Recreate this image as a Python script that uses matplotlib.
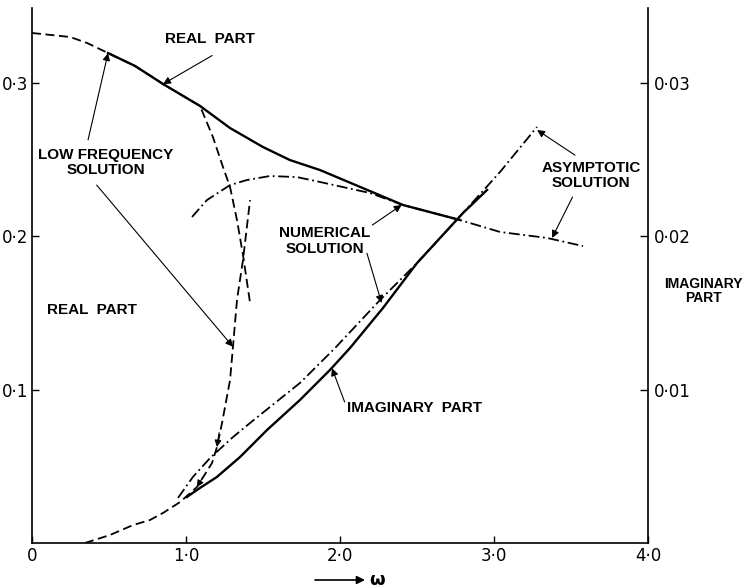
import matplotlib
matplotlib.use("Agg")
import matplotlib.pyplot as plt

# numerical solution, real part (left axis)
num_re_w = [0.494, 0.669, 0.851, 1.091, 1.286, 1.500, 1.675, 1.870, 2.409, 2.779]
num_re = [0.3196, 0.3112, 0.2994, 0.2851, 0.2707, 0.2583, 0.2498, 0.2433, 0.2205, 0.2107]

# numerical solution, imaginary part (right axis)
num_im_w = [1.006, 1.071, 1.201, 1.351, 1.526, 1.740, 1.935, 2.065, 2.279, 2.500,
            2.799, 2.955]
num_im = [0.00300, 0.00346, 0.00431, 0.00561, 0.00737, 0.00933, 0.01129, 0.01272,
          0.01533, 0.01826, 0.02153, 0.02303]

# low frequency solution, real part
low_re_w = [0.0, 0.247, 0.357, 0.494, 0.669, 0.851, 1.091, 1.175, 1.240, 1.286,
            1.331, 1.370, 1.416]
low_re = [0.3327, 0.3301, 0.3262, 0.3196, 0.3112, 0.2994, 0.2851, 0.2648, 0.2453,
          0.2322, 0.2107, 0.1879, 0.1566]

# low frequency solution, imaginary part
low_im_w = [0.344, 0.506, 0.656, 0.766, 0.851, 0.961, 1.071, 1.169, 1.201, 1.234,
            1.286, 1.305, 1.331, 1.370, 1.416]
low_im = [0.0, 0.00052, 0.00117, 0.00150, 0.00196, 0.00267, 0.00365, 0.00522,
          0.00626, 0.00783, 0.01063, 0.01279, 0.01585, 0.01846, 0.02237]

# asymptotic solution, real part
asy_re_w = [1.039, 1.136, 1.286, 1.396, 1.545, 1.721, 1.870, 2.195, 2.409, 2.779,
            3.039, 3.344, 3.578]
asy_re = [0.2127, 0.2237, 0.2335, 0.2368, 0.2394, 0.2387, 0.2355, 0.2283, 0.2205,
          0.2107, 0.2029, 0.1990, 0.1937]

# asymptotic solution, imaginary part
asy_im_w = [0.948, 1.045, 1.156, 1.305, 1.416, 1.545, 1.740, 1.968, 2.260, 2.500,
            2.799, 3.039, 3.279]
asy_im = [0.00294, 0.00431, 0.00554, 0.00691, 0.00783, 0.00887, 0.01044, 0.01272,
          0.01585, 0.01826, 0.02153, 0.02420, 0.02714]

x_ticks = [0, 1, 2, 3, 4]
x_labels = ["0", "1·0", "2·0", "3·0", "4·0"]
re_ticks = [0.1, 0.2, 0.3]
re_labels = ["0·1", "0·2", "0·3"]
im_ticks = [0.01, 0.02, 0.03]
im_labels = ["0·01", "0·02", "0·03"]

lab_font = dict(family=["Liberation Sans", "DejaVu Sans"], weight="bold", fontsize=11)

fig = plt.figure(figsize=(7.47, 5.88), dpi=100)
ax = fig.add_axes([32 / 747, 45 / 588, 616 / 747, 535 / 588])
ax2 = ax.twinx()

ax.set_xlim(0, 4)
ax.set_ylim(0, 0.349)
ax2.set_ylim(0, 0.0349)

dash = dict(color="k", lw=1.3, dashes=(5, 2.5))
dashdot = dict(color="k", lw=1.3, dashes=(6, 2, 1, 2))

ax.plot(low_re_w, low_re, **dash)
ax.plot(asy_re_w, asy_re, **dashdot)
ax.plot(num_re_w, num_re, color="k", lw=1.7)

ax2.plot(low_im_w, low_im, **dash)
ax2.plot(asy_im_w, asy_im, **dashdot)
ax2.plot(num_im_w, num_im, color="k", lw=1.7)

# axes look
ax.spines["top"].set_visible(False)
ax.spines["right"].set_visible(False)
for s in ["top", "left", "bottom"]:
    ax2.spines[s].set_visible(False)
for a in (ax, ax2):
    for s in a.spines.values():
        s.set_linewidth(1.2)

ax.set_xticks(x_ticks)
ax.set_xticklabels(x_labels)
ax.set_yticks(re_ticks)
ax.set_yticklabels(re_labels)
ax2.set_yticks(im_ticks)
ax2.set_yticklabels(im_labels)
ax.tick_params(direction="in", length=5, width=1.0, labelsize=12, pad=3)
ax2.tick_params(direction="in", length=6, width=1.0, labelsize=12, pad=4)

# labels and arrows
arr = dict(arrowstyle="-|>", color="k", lw=0.8, mutation_scale=11,
           shrinkA=0, shrinkB=0)

ax.text(1.156, 0.329, "REAL  PART", ha="center", va="center", **lab_font)
ax.annotate("", xy=(0.851, 0.2994), xytext=(1.17, 0.318), arrowprops=arr)

ax.text(0.48, 0.2485, "LOW FREQUENCY\nSOLUTION", ha="center", va="center",
        ma="center", linespacing=1.1, **lab_font)
ax.annotate("", xy=(0.494, 0.3196), xytext=(0.364, 0.263), arrowprops=arr)
ax.annotate("", xy=(1.305, 0.128), xytext=(0.42, 0.2335), arrowprops=arr)

ax.text(1.90, 0.197, "NUMERICAL\nSOLUTION", ha="center", va="center",
        ma="center", linespacing=1.1, **lab_font)
ax.annotate("", xy=(2.40, 0.2205), xytext=(2.21, 0.2074), arrowprops=arr)
ax.annotate("", xy=(2.27, 0.1566), xytext=(2.175, 0.189), arrowprops=arr)

ax.text(3.63, 0.240, "ASYMPTOTIC\nSOLUTION", ha="center", va="center",
        ma="center", linespacing=1.1, **lab_font)
ax.annotate("", xy=(3.28, 0.2694), xytext=(3.526, 0.253), arrowprops=arr)
ax.annotate("", xy=(3.377, 0.199), xytext=(3.51, 0.2257), arrowprops=arr)

ax.text(0.39, 0.152, "REAL  PART", ha="center", va="center", **lab_font)

ax.text(2.045, 0.088, "IMAGINARY  PART", ha="left", va="center", **lab_font)
ax.annotate("", xy=(1.948, 0.114), xytext=(2.03, 0.092), arrowprops=arr)

# small direction heads on the low frequency curve
head = dict(arrowstyle="-|>", color="k", lw=0.8, mutation_scale=10,
            shrinkA=0, shrinkB=0)
ax2.annotate("", xy=(1.201, 0.00626), xytext=(1.215, 0.0072), arrowprops=head)
ax2.annotate("", xy=(1.071, 0.00365), xytext=(1.11, 0.0043), arrowprops=head)

fig.text(703 / 747, 297 / 588, "IMAGINARY\nPART", ha="center", va="center",
         ma="center", linespacing=1.0,
         family=["Liberation Sans", "DejaVu Sans"], weight="bold", fontsize=10)

# omega axis label
ax.annotate("", xy=(365 / 747, 8 / 588), xytext=(315 / 747, 8 / 588),
            xycoords="figure fraction", textcoords="figure fraction",
            arrowprops=dict(arrowstyle="-|>", color="k", lw=1.2, mutation_scale=12,
                            shrinkA=0, shrinkB=0))
fig.text(377 / 747, 8 / 588, "ω", ha="center", va="center", fontsize=13,
         weight="bold")

fig.savefig("out.png", dpi=100)
